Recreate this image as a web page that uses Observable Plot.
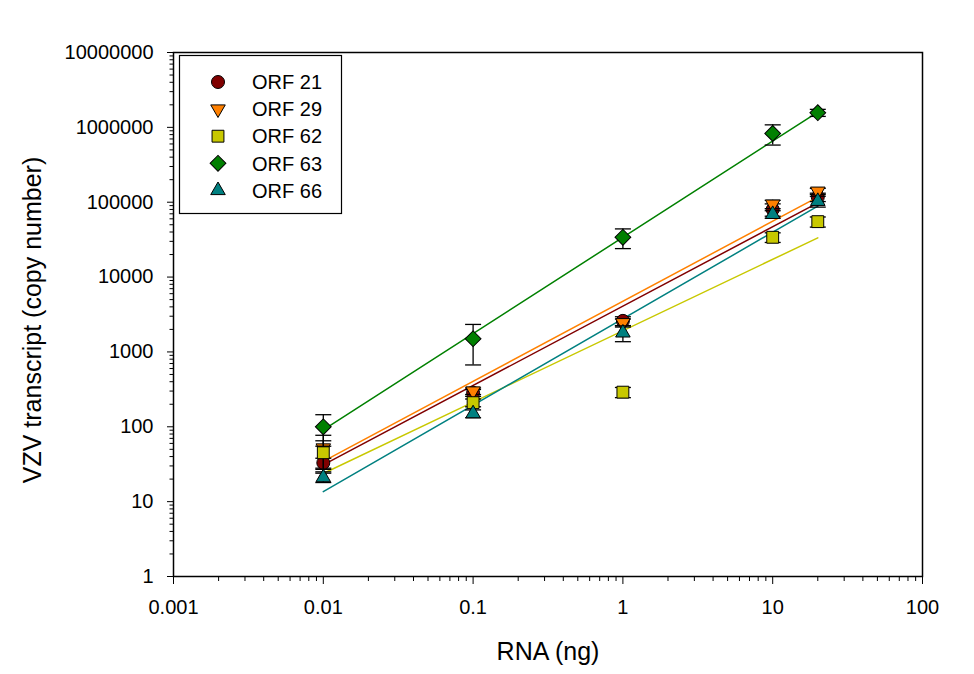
<!DOCTYPE html>
<html>
<head>
<meta charset="utf-8">
<script src="https://cdn.jsdelivr.net/npm/d3@7"></script>
<script src="https://cdn.jsdelivr.net/npm/@observablehq/plot@0.6"></script>
<style>
  body { margin: 0; background: #fff; }
  #chart { position: relative; width: 974px; height: 674px; }
</style>
</head>
<body>
<div id="chart"></div>
<script>
// ---- Data ----
const rna = [0.01, 0.1, 1, 10, 20];               // RNA (ng)
const seriesNames = ["ORF 21", "ORF 29", "ORF 62", "ORF 63", "ORF 66"];
const orf21 = [33, 285, 2600, 80000, 117000];
const orf21Err = [5, 30, 350, 15000, 15000];
const orf29 = [52, 300, 2450, 94000, 140000];
const orf29Err = [25, 30, 300, 12000, 13000];
const orf62 = [45, 210, 290, 34000, 55000];
const orf62Err = [20, 25, 45, 5000, 8500];
const orf63 = [100, 1500, 34000, 830000, 1570000];
const orf63Err = [45, 830, 10000, 250000, 170000];
const orf66 = [21, 150, 1800, 69000, 103000];
const orf66Err = [3, 18, 430, 8000, 17000];

// regression lines (endpoints)
const fitX = [0.01, 20];
const fit21 = [31, 98000];
const fit29 = [34.5, 117000];
const fit62 = [23.8, 33400];
const fit63 = [91, 1600000];
const fit66 = [13.6, 88500];

// axis ticks
const xMajor = [0.001, 0.01, 0.1, 1, 10, 100];
const yMajor = [1, 10, 100, 1000, 10000, 100000, 1000000, 10000000];
const xMinor = xMajor.slice(0, -1).flatMap(d => [2,3,4,5,6,7,8,9].map(m => m * d));
const yMinor = yMajor.slice(0, -1).flatMap(d => [2,3,4,5,6,7,8,9].map(m => m * d));

const colors = ["#800000", "#ff8000", "#c8c800", "#008000", "#008080"];
const symbols = ["circle", "triangle", "square", "square", "triangle"];
const rotations = [0, 180, 0, 45, 0];
const radii = [6.5, 5.4, 6.7, 6.3, 5.4];

const values = [orf21, orf29, orf62, orf63, orf66];
const errors = [orf21Err, orf29Err, orf62Err, orf63Err, orf66Err];
const fits = [fit21, fit29, fit62, fit63, fit66];

const series = seriesNames.map((name, k) => ({
  name, color: colors[k], symbol: symbols[k], rotate: rotations[k], r: radii[k],
  rows: rna.map((x, i) => ({x, y: values[k][i], lo: values[k][i] - errors[k][i], hi: values[k][i] + errors[k][i]})),
  fit: fitX.map((x, i) => ({x, y: fits[k][i]}))
}));

const cap = {draw(ctx) { ctx.moveTo(-8, 0); ctx.lineTo(8, 0); }};
const fontFamily = "'Liberation Sans', Arial, Helvetica, sans-serif";

const marks = [
  Plot.axisX({ticks: xMinor, tickSize: 5, tickFormat: () => "", label: null}),
  Plot.axisY({ticks: yMinor, tickSize: 3.5, tickFormat: () => "", label: null}),
  Plot.axisX({ticks: xMajor, tickSize: 8, tickPadding: 15, tickFormat: d => String(d), label: null}),
  Plot.axisY({ticks: yMajor, tickSize: 6, tickPadding: 14, tickFormat: d => String(d), label: null}),
  Plot.frame({stroke: "black", strokeWidth: 1.5}),
  ...series.map(s => Plot.line(s.fit, {x: "x", y: "y", stroke: s.color, strokeWidth: 1.5}))
];
for (const s of series) {
  marks.push(Plot.ruleX(s.rows, {x: "x", y1: "lo", y2: "hi", stroke: "black", strokeWidth: 1.3}));
  marks.push(Plot.dot(s.rows, {x: "x", y: "hi", symbol: cap, r: 3, stroke: "black", strokeWidth: 1.3, fill: "none"}));
  marks.push(Plot.dot(s.rows, {x: "x", y: "lo", symbol: cap, r: 3, stroke: "black", strokeWidth: 1.3, fill: "none"}));
  marks.push(Plot.dot(s.rows, {x: "x", y: "y", symbol: s.symbol, rotate: s.rotate, r: s.r, fill: s.color, stroke: "black", strokeWidth: 1}));
}

const plot = Plot.plot({
  width: 974,
  height: 674,
  marginLeft: 173,
  marginRight: 52,
  marginTop: 52,
  marginBottom: 98,
  style: {fontFamily, fontSize: "20px", color: "black", background: "white", overflow: "visible"},
  x: {type: "log", domain: [0.001, 100], nice: false},
  y: {type: "log", domain: [1, 10000000], nice: false},
  marks
});

document.getElementById("chart").appendChild(plot);

// axis titles
const svg = d3.select(plot);
svg.append("text")
  .attr("x", 548).attr("y", 660)
  .attr("text-anchor", "middle")
  .attr("font-size", "25px").attr("font-family", fontFamily).attr("fill", "black")
  .text("RNA (ng)");
svg.append("text")
  .attr("transform", "translate(41,320) rotate(-90)")
  .attr("text-anchor", "middle")
  .attr("font-size", "25px").attr("font-family", fontFamily).attr("fill", "black")
  .text("VZV transcript (copy number)");

// legend
const lg = svg.append("g");
lg.append("rect").attr("x", 179.5).attr("y", 55.5).attr("width", 162).attr("height", 158)
  .attr("fill", "white").attr("stroke", "black").attr("stroke-width", 1.2);
const d3sym = {circle: d3.symbolCircle, triangle: d3.symbolTriangle, square: d3.symbolSquare};
series.forEach((s, i) => {
  const yy = 82 + i * 27.1;
  lg.append("path")
    .attr("d", d3.symbol(d3sym[s.symbol], Math.PI * s.r * s.r)())
    .attr("transform", `translate(218,${yy}) rotate(${s.rotate})`)
    .attr("fill", s.color).attr("stroke", "black").attr("stroke-width", 1);
  lg.append("text")
    .attr("x", 252).attr("y", yy).attr("dy", "0.36em")
    .attr("text-anchor", "start")
    .attr("font-size", "20px").attr("font-family", fontFamily).attr("fill", "black")
    .text(s.name);
});
</script>
</body>
</html>
